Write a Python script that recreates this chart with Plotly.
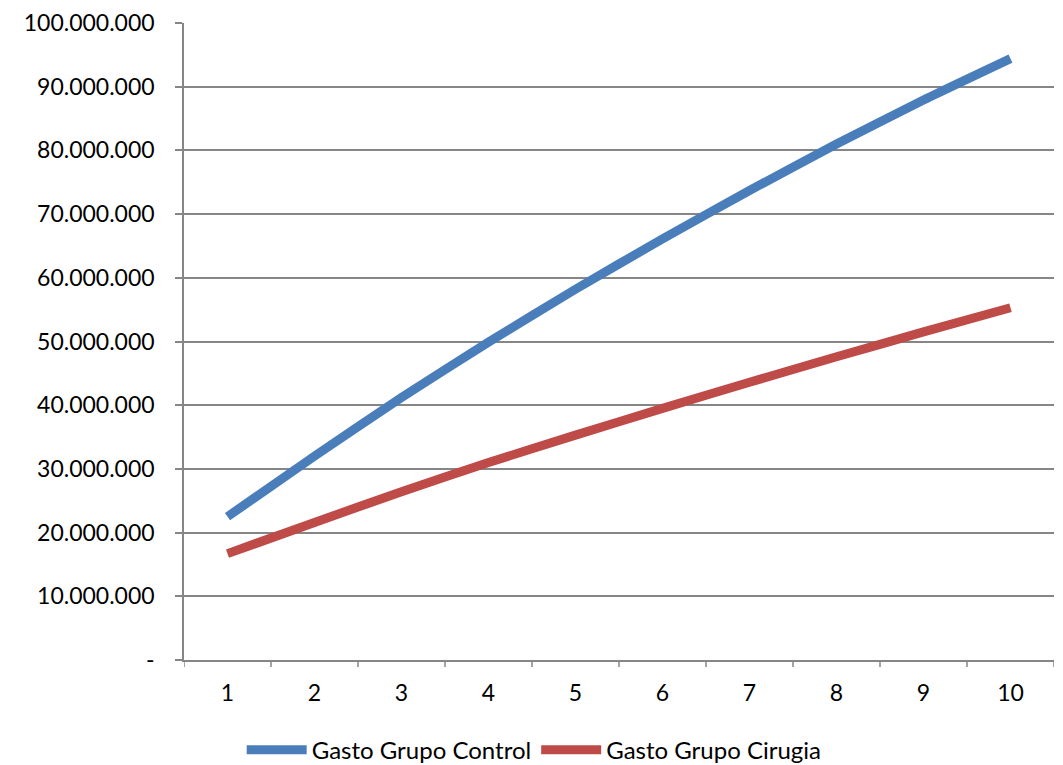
import plotly.graph_objects as go

categories = [1, 2, 3, 4, 5, 6, 7, 8, 9, 10]
gasto_control = [22.5e6, 32.0e6, 41.2e6, 49.9e6, 58.2e6, 66.1e6, 73.7e6, 81.0e6, 87.9e6, 94.4e6]
gasto_cirugia = [16.7e6, 21.6e6, 26.4e6, 31.0e6, 35.3e6, 39.5e6, 43.6e6, 47.6e6, 51.5e6, 55.3e6]
y_tickvals = [0, 10e6, 20e6, 30e6, 40e6, 50e6, 60e6, 70e6, 80e6, 90e6, 100e6]
y_ticktext = ["-", "10.000.000", "20.000.000", "30.000.000", "40.000.000", "50.000.000",
              "60.000.000", "70.000.000", "80.000.000", "90.000.000", "100.000.000"]

fig = go.Figure()
fig.add_trace(go.Scatter(x=categories, y=gasto_control, mode="lines", name="Gasto Grupo Control",
                         line=dict(color="#4A7EBB", width=9, shape="spline", smoothing=0.6)))
fig.add_trace(go.Scatter(x=categories, y=gasto_cirugia, mode="lines", name="Gasto Grupo Cirugia",
                         line=dict(color="#BE4B48", width=9, shape="spline", smoothing=0.6)))

font_family = "Lato, Open Sans, sans-serif"
fig.update_layout(
    width=1063, height=765,
    margin=dict(l=176, r=17, t=15, b=113, autoexpand=False),
    paper_bgcolor="white", plot_bgcolor="white",
    font=dict(family=font_family, size=23, color="black"),
    showlegend=True,
    legend=dict(orientation="h", x=0.495, xanchor="center", xref="container",
                y=0.030, yanchor="middle", yref="container",
                font=dict(size=24), itemwidth=60, tracegroupgap=0),
    xaxis=dict(type="linear", range=[0.5, 10.5], tickvals=categories,
               ticktext=[str(c) for c in categories],
               showgrid=False, showline=True, linecolor="#868686", linewidth=1.5,
               ticks="", zeroline=False, automargin=False, ticklabelstandoff=12,
               ticklabeloverflow="allow"),
    yaxis=dict(range=[0, 100e6], tickvals=y_tickvals, ticktext=y_ticktext,
               showgrid=True, gridcolor="#868686", gridwidth=1.5,
               showline=True, linecolor="#868686", linewidth=1.5,
               ticks="outside", ticklen=7, tickcolor="#868686", tickwidth=1.5,
               zeroline=False, ticklabelstandoff=16, automargin=False,
               ticklabeloverflow="allow"),
)
# boundary tick marks on x axis
for b in [0.5 + i for i in range(11)]:
    fig.add_shape(type="line", xref="x", yref="paper", x0=b, x1=b, y0=0, y1=-0.011,
                  line=dict(color="#868686", width=1.5))

fig.write_html("out.html")
